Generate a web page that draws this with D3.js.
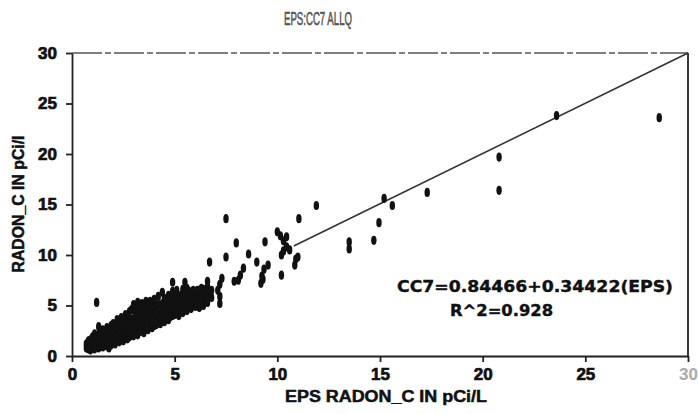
<!DOCTYPE html>
<html>
<head>
<meta charset="utf-8">
<script src="https://cdnjs.cloudflare.com/ajax/libs/d3/7.8.5/d3.min.js"></script>
<style>
  body { margin: 0; background: #fff; }
  .axis path, .axis line { stroke: #222; stroke-width: 1.8; }
</style>
</head>
<body>
<script>
//chart values
var titleText = "EPS:CC7 ALLQ";
var xTitle = "EPS RADON_C IN pCi/L";
var yTitle = "RADON_C IN pCi/l";
var equationText = "CC7=0.84466+0.34422(EPS)";
var r2Text = "R^2=0.928";

var xTicks = [0, 5, 10, 15, 20, 25, 30];
var yTicks = [0, 5, 10, 15, 20, 25, 30];

//dense group of samples below 7 pCi/L  [eps, cc7]
var lowSamples = [
  [0.7,0.8],[0.7,1.2],[0.8,0.7],[0.8,1.0],[0.8,1.5],[0.9,0.6],[0.9,1.1],[0.9,1.6],
  [1.0,0.8],[1.0,1.3],[1.0,1.9],[1.1,0.7],[1.1,1.2],[1.1,1.7],[1.1,2.2],
  [1.2,0.9],[1.2,1.4],[1.2,2.0],[1.2,5.3],[1.3,0.8],[1.3,1.5],[1.3,2.1],[1.3,2.9],
  [1.4,1.0],[1.4,1.6],[1.4,2.3],[1.5,0.9],[1.5,1.4],[1.5,2.0],[1.5,2.6],
  [1.6,1.1],[1.6,1.7],[1.6,2.4],[1.7,1.0],[1.7,1.5],[1.7,2.1],[1.7,2.8],
  [1.8,0.8],[1.8,1.3],[1.8,1.9],[1.8,2.5],[1.9,1.1],[1.9,1.7],[1.9,2.3],[1.9,3.0],
  [2.0,1.3],[2.0,1.9],[2.0,2.6],[2.0,3.2],[2.1,1.2],[2.1,1.8],[2.1,2.4],[2.1,3.0],
  [2.2,1.5],[2.2,2.1],[2.2,2.8],[2.2,3.6],[2.3,1.4],[2.3,2.0],[2.3,2.7],[2.3,3.4],
  [2.4,1.6],[2.4,2.3],[2.4,3.0],[2.4,3.8],[2.5,1.5],[2.5,2.2],[2.5,2.9],[2.5,3.6],
  [2.6,1.8],[2.6,2.5],[2.6,3.3],[2.6,4.1],[2.7,1.7],[2.7,2.4],[2.7,3.1],[2.7,3.9],
  [2.8,1.9],[2.8,2.7],[2.8,3.5],[2.8,4.4],[2.9,2.1],[2.9,2.8],[2.9,3.6],[2.9,4.6],
  [3.0,2.0],[3.0,2.8],[3.0,3.7],[3.0,4.6],[3.0,5.1],[3.1,2.3],[3.1,3.1],[3.1,4.0],[3.1,4.9],
  [3.2,2.1],[3.2,3.0],[3.2,3.8],[3.2,4.7],[3.2,5.3],[3.3,2.4],[3.3,3.2],[3.3,4.1],[3.3,5.0],
  [3.4,2.5],[3.4,3.4],[3.4,4.3],[3.4,5.2],[3.5,2.3],[3.5,3.1],[3.5,4.0],[3.5,4.9],
  [3.6,2.7],[3.6,3.6],[3.6,4.5],[3.6,5.4],[3.7,2.6],[3.7,3.5],[3.7,4.4],[3.7,5.2],
  [3.8,2.9],[3.8,3.8],[3.8,4.6],[3.8,5.4],[3.9,2.8],[3.9,3.7],[3.9,4.5],[3.9,5.3],
  [4.0,3.0],[4.0,3.9],[4.0,4.8],[4.0,5.6],[4.1,3.1],[4.1,4.0],[4.1,4.9],
  [4.2,3.3],[4.2,4.2],[4.2,5.1],[4.2,5.9],[4.3,3.2],[4.3,4.1],[4.3,5.0],
  [4.4,3.5],[4.4,4.3],[4.4,5.2],[4.4,6.3],[4.5,3.4],[4.5,4.2],[4.5,5.0],[4.5,5.7],
  [4.6,3.7],[4.6,4.5],[4.6,5.3],[4.7,3.6],[4.7,4.4],[4.7,5.2],[4.7,6.0],
  [4.8,3.9],[4.8,4.7],[4.8,5.5],[4.9,4.0],[4.9,4.8],[4.9,5.6],[4.9,6.4],[4.9,7.3],
  [5.0,4.1],[5.0,4.9],[5.0,5.7],[5.1,4.2],[5.1,5.0],[5.1,5.8],[5.1,6.5],
  [5.2,4.0],[5.2,4.8],[5.2,5.6],[5.3,4.4],[5.3,5.2],[5.3,6.0],
  [5.4,4.3],[5.4,5.1],[5.4,5.9],[5.4,6.6],[5.5,4.6],[5.5,5.4],[5.5,6.2],[5.5,7.3],
  [5.6,4.5],[5.6,5.3],[5.6,6.1],[5.6,6.7],[5.7,4.8],[5.7,5.6],[5.7,6.4],
  [5.8,4.7],[5.8,5.5],[5.8,6.2],[5.9,5.0],[5.9,5.8],[5.9,6.5],
  [6.0,4.9],[6.0,5.7],[6.0,6.4],[6.1,5.1],[6.1,5.9],[6.1,6.5],
  [6.2,4.8],[6.2,5.6],[6.2,6.5],[6.3,5.2],[6.3,6.0],[6.3,6.7],
  [6.4,5.0],[6.4,5.8],[6.4,6.6],[6.5,5.4],[6.5,6.2],[6.6,5.3],[6.6,6.1],[6.6,6.9],[6.6,7.4],
  [6.8,5.8],[6.8,6.5]
];

//scattered samples above 7 pCi/L  [eps, cc7]
var highSamples = [
  [6.7,9.3],[7.1,6.5],[7.2,5.2],[7.2,5.9],[7.2,7.1],[7.3,7.7],
  [7.5,9.8],[7.5,13.6],[7.9,7.4],[8.0,11.2],[8.1,7.5],[8.2,8.0],[8.35,8.7],
  [8.6,10.1],[9.0,9.3],[9.2,7.2],[9.25,7.9],[9.3,7.6],[9.35,8.6],[9.4,11.3],[9.55,9.0],
  [10.0,12.3],[10.15,11.9],[10.3,11.4],[10.45,11.8],[10.45,10.8],[10.3,10.4],[10.2,10.0],
  [10.6,10.5],[10.2,8.0],[10.9,9.6],[10.85,9.0],[11.0,9.8],[11.05,13.6],[11.9,14.9],
  [13.5,11.3],[13.5,10.6],[14.7,11.45],[14.95,13.2],[15.2,15.6],[15.6,14.9],
  [17.3,16.2],[20.8,19.7],[20.8,16.4],[23.6,23.8],[28.6,23.6]
];

//fitted line as drawn on the plot
var fitLine = [[10.8, 10.9], [30, 30]];

var width = 698,
    height = 414;

var svg = d3.select("body")
    .append("svg")
    .attr("width", width)
    .attr("height", height);

var x = d3.scaleLinear().domain([0, 30]).range([72, 688]);
var y = d3.scaleLinear().domain([0, 30]).range([356, 53]);

//frame top and right
svg.append("line")
    .attr("x1", x(0)).attr("x2", x(30))
    .attr("y1", y(30)).attr("y2", y(30))
    .attr("stroke", "#555").attr("stroke-width", 1.4)
    .attr("stroke-dasharray", "30,3,6,3");
svg.append("line")
    .attr("x1", x(30)).attr("x2", x(30))
    .attr("y1", y(30)).attr("y2", y(0))
    .attr("stroke", "#222").attr("stroke-width", 1.8);

//axes
var xAxis = svg.append("g")
    .attr("class", "axis")
    .attr("transform", "translate(0," + y(0) + ")")
    .call(d3.axisBottom(x).tickValues(xTicks).tickSize(6).tickSizeOuter(0).tickPadding(6));

var yAxis = svg.append("g")
    .attr("class", "axis")
    .attr("transform", "translate(" + x(0) + ",0)")
    .call(d3.axisLeft(y).tickValues(yTicks).tickSize(6).tickSizeOuter(0).tickPadding(9));

//heavy scanned-look labels
svg.selectAll(".axis .tick text")
    .style("font-family", "Liberation Sans, Arial, sans-serif")
    .style("font-weight", "bold")
    .style("font-size", "17px")
    .style("fill", "#111")
    .style("stroke", "#111")
    .style("stroke-width", 0.7);

xAxis.selectAll(".tick")
    .filter(function(d){ return d === 30; })
    .select("text").style("fill", "#aaa").style("stroke", "none");

//regression line
svg.append("path")
    .datum(fitLine)
    .attr("fill", "none")
    .attr("stroke", "#333")
    .attr("stroke-width", 1.6)
    .attr("d", d3.line().x(function(d){ return x(d[0]); }).y(function(d){ return y(d[1]); }));

//sample markers
svg.selectAll(".sample")
    .data(lowSamples.concat(highSamples))
    .enter()
    .append("ellipse")
    .attr("class", "sample")
    .attr("cx", function(d){ return x(d[0]); })
    .attr("cy", function(d){ return y(d[1]); })
    .attr("rx", 2.7)
    .attr("ry", 4.6)
    .attr("fill", "#111");

//title
svg.append("text")
    .attr("x", 318).attr("y", 25)
    .attr("text-anchor", "middle")
    .attr("textLength", 68).attr("lengthAdjust", "spacingAndGlyphs")
    .style("font-family", "Liberation Sans, Arial, sans-serif")
    .style("font-size", "18px")
    .style("fill", "#555")
    .style("stroke", "#555")
    .style("stroke-width", 0.6)
    .text(titleText);

//axis titles
svg.append("text")
    .attr("x", 386).attr("y", 402)
    .attr("text-anchor", "middle")
    .attr("textLength", 202).attr("lengthAdjust", "spacingAndGlyphs")
    .style("font-family", "Liberation Sans, Arial, sans-serif")
    .style("font-weight", "bold")
    .style("font-size", "16px")
    .style("fill", "#111")
    .style("stroke", "#111")
    .style("stroke-width", 0.5)
    .text(xTitle);

svg.append("text")
    .attr("transform", "translate(24,204) rotate(-90)")
    .attr("text-anchor", "middle")
    .attr("textLength", 137).attr("lengthAdjust", "spacingAndGlyphs")
    .style("font-family", "Liberation Sans, Arial, sans-serif")
    .style("font-weight", "bold")
    .style("font-size", "16px")
    .style("fill", "#111")
    .style("stroke", "#111")
    .style("stroke-width", 0.5)
    .text(yTitle);

//regression annotation
svg.append("text")
    .attr("x", 397).attr("y", 292)
    .attr("textLength", 276).attr("lengthAdjust", "spacingAndGlyphs")
    .style("font-family", "DejaVu Sans, sans-serif")
    .style("font-weight", "bold")
    .style("font-size", "16px")
    .style("fill", "#111")
    .style("stroke", "#111")
    .style("stroke-width", 0.4)
    .text(equationText);

svg.append("text")
    .attr("x", 450).attr("y", 316)
    .attr("textLength", 103).attr("lengthAdjust", "spacingAndGlyphs")
    .style("font-family", "DejaVu Sans, sans-serif")
    .style("font-weight", "bold")
    .style("font-size", "16px")
    .style("fill", "#111")
    .style("stroke", "#111")
    .style("stroke-width", 0.4)
    .text(r2Text);
</script>
</body>
</html>
